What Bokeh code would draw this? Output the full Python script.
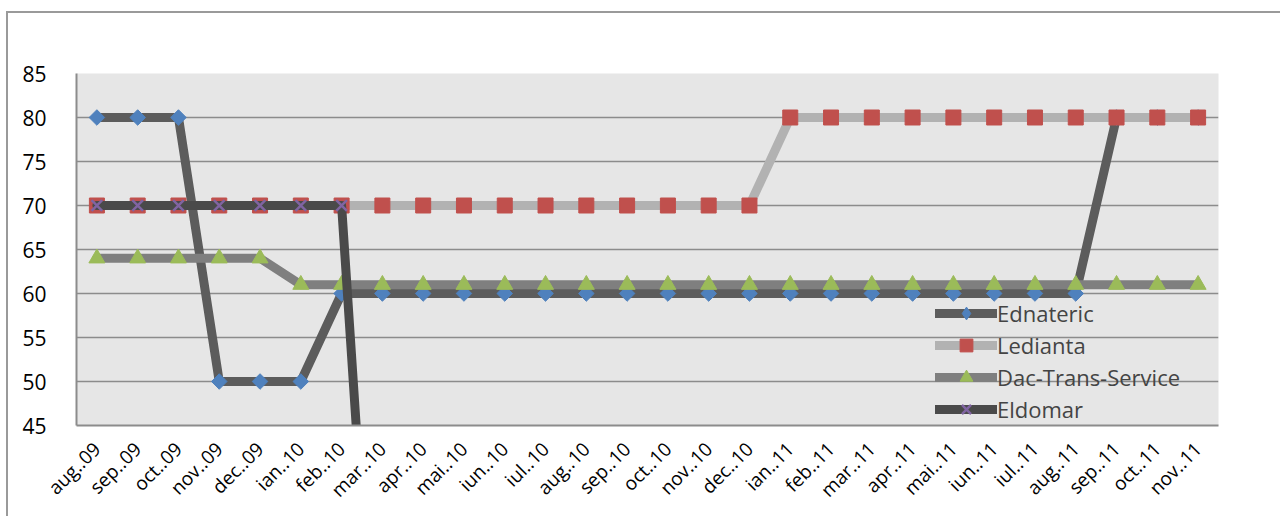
from math import pi
from bokeh.plotting import figure
from bokeh.models import Range1d, Legend
from bokeh.embed import file_html
from bokeh.resources import INLINE

# categorii (luni)
months = ["aug..09", "sep..09", "oct..09", "nov..09", "dec..09", "ian..10", "feb..10",
          "mar..10", "apr..10", "mai..10", "iun..10", "iul..10", "aug..10", "sep..10",
          "oct..10", "nov..10", "dec..10", "ian..11", "feb..11", "mar..11", "apr..11",
          "mai..11", "iun..11", "iul..11", "aug..11", "sep..11", "oct..11", "nov..11"]

ednateric = [80, 80, 80, 50, 50, 50, 60, 60, 60, 60, 60, 60, 60, 60,
             60, 60, 60, 60, 60, 60, 60, 60, 60, 60, 60, 80, 80, 80]
ledianta = [70, 70, 70, 70, 70, 70, 70, 70, 70, 70, 70, 70, 70, 70,
            70, 70, 70, 80, 80, 80, 80, 80, 80, 80, 80, 80, 80, 80]
dac_trans = [64, 64, 64, 64, 64, 61, 61, 61, 61, 61, 61, 61, 61, 61,
             61, 61, 61, 61, 61, 61, 61, 61, 61, 61, 61, 61, 61, 61]
nan = float("nan")
eldomar = [70, 70, 70, 70, 70, 70, 70, 0, nan, nan, nan, nan, nan, nan,
           nan, nan, nan, nan, nan, nan, nan, nan, nan, nan, nan, nan, nan, nan]

y_ticks = [45, 50, 55, 60, 65, 70, 75, 80, 85]

p = figure(x_range=months, y_range=Range1d(45, 85), width=1280, height=516,
           output_backend="svg", toolbar_location=None,
           min_border_left=76, min_border_right=62, min_border_top=73, min_border_bottom=91)

# moldura exterior (esquerda e cima) desenhada como fundo do elemento
p.styles = {"background-image": "linear-gradient(#9a9a9a, #9a9a9a), linear-gradient(#9a9a9a, #9a9a9a)",
            "background-size": "2px 100%, 100% 2px",
            "background-position": "6px 11px, 6px 11px",
            "background-repeat": "no-repeat"}

p.background_fill_color = "#e6e6e6"
p.border_fill_alpha = 0
p.outline_line_color = None

# eixos
p.yaxis.ticker = y_ticks
p.yaxis.major_label_text_font = "Open Sans"
p.yaxis.major_label_text_font_size = "21px"
p.yaxis.major_label_text_color = "black"
p.yaxis.major_tick_line_color = None
p.yaxis.minor_tick_line_color = None
p.yaxis.axis_line_color = "#8c8c8c"
p.yaxis.axis_line_width = 2
p.yaxis.major_label_standoff = 24

p.xaxis.major_label_orientation = pi / 4
p.xaxis.major_label_text_font = "Open Sans"
p.xaxis.major_label_text_font_size = "19px"
p.xaxis.major_label_text_color = "black"
p.xaxis.major_tick_line_color = None
p.xaxis.axis_line_color = "#8c8c8c"
p.xaxis.axis_line_width = 2
p.xaxis.major_label_standoff = 14

p.xgrid.grid_line_color = None
p.ygrid.grid_line_color = "#8c8c8c"
p.ygrid.grid_line_width = 1.5

series = [
    ("Ednateric", ednateric, "#5c5c5c", "square", "#4f81bd", 11, pi / 4, "diamond"),
    ("Ledianta", ledianta, "#b2b2b2", "square", "#c0504d", 15, 0, "square"),
    ("Dac-Trans-Service", dac_trans, "#7f7f7f", "triangle", "#9bbb59", 16, 0, "triangle"),
    ("Eldomar", eldomar, "#4a4a4a", "x", "#8064a2", 15, 0, "x"),
]

items = []
for name, vals, lcolor, marker, mcolor, msize, ang, leg_marker in series:
    r1 = p.line(months, vals, line_color=lcolor, line_width=9, line_join="round", line_cap="round")
    if marker == "x":
        r2 = p.scatter(months, vals, marker=marker, size=msize, line_color=mcolor, line_width=2.5)
    else:
        r2 = p.scatter(months, vals, marker=marker, size=msize, angle=ang,
                       fill_color=mcolor, line_color=mcolor)
    if leg_marker != marker:
        # simbolo apenas para a legenda (ponto fora do grafico)
        r2 = p.scatter([months[0]], [nan], marker=leg_marker, fill_color=mcolor, line_color=mcolor)
    items.append((name, [r1, r2]))

legend = Legend(items=items, location=(859, 0))
legend.background_fill_alpha = 0
legend.border_line_color = None
legend.label_text_font = "Open Sans"
legend.label_text_font_size = "22px"
legend.label_height = 32
legend.glyph_height = 32
legend.glyph_width = 62
legend.label_standoff = 0
legend.spacing = 0
legend.padding = 0
legend.margin = 0
p.add_layout(legend, "center")

open("out.html", "w").write(file_html(p, INLINE))
